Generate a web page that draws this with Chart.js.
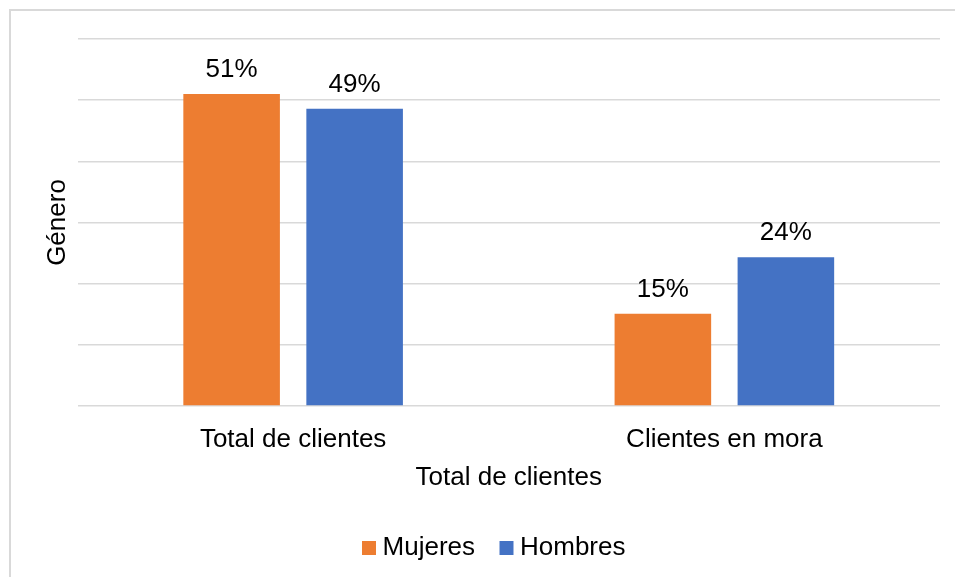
<!DOCTYPE html>
<html>
<head>
<meta charset="utf-8">
<script src="https://cdn.jsdelivr.net/npm/chart.js@4/dist/chart.umd.min.js"></script>
<style>
  html, body { margin: 0; padding: 0; background: #fff; overflow: hidden; }
  #wrap { position: relative; width: 955px; height: 577px; }
  #frame { position: absolute; left: 9px; top: 9px; width: 1000px; height: 1000px; border: 2px solid #d9d9d9; box-sizing: border-box; }
  #box { position: absolute; left: 0; top: 0; width: 955px; height: 577px; }
</style>
</head>
<body>
<div id="wrap">
  <div id="frame"></div>
  <div id="box"><canvas id="c"></canvas></div>
</div>
<script>
const categories = ['Total de clientes', 'Clientes en mora'];
const seriesNames = ['Mujeres', 'Hombres'];
const mujeres = [51, 15.1];
const hombres = [48.6, 24.3];
const yTicks = [0, 10, 20, 30, 40, 50, 60];
const xTitle = 'Total de clientes';
const yTitle = 'Género';

const FONT = 'Liberation Sans, Arial, sans-serif';

const valueLabels = {
  id: 'valueLabels',
  afterDatasetsDraw(chart) {
    const ctx = chart.ctx;
    ctx.save();
    ctx.font = '26px ' + FONT;
    ctx.fillStyle = '#000';
    ctx.textAlign = 'center';
    ctx.textBaseline = 'alphabetic';
    chart.data.datasets.forEach((ds, i) => {
      const meta = chart.getDatasetMeta(i);
      meta.data.forEach((bar, j) => {
        ctx.fillText(Math.round(ds.data[j]) + '%', bar.x, bar.y - 17);
      });
    });
    ctx.restore();
  }
};

new Chart(document.getElementById('c'), {
  type: 'bar',
  data: {
    labels: categories,
    datasets: [
      { label: seriesNames[0], data: mujeres, backgroundColor: '#ED7D31', borderWidth: 0 },
      { label: seriesNames[1], data: hombres, backgroundColor: '#4472C4', borderWidth: 0 }
    ]
  },
  options: {
    responsive: true,
    maintainAspectRatio: false,
    animation: false,
    devicePixelRatio: 1,
    categoryPercentage: 0.5705,
    barPercentage: 0.785,
    layout: { padding: { left: 54, right: 15, top: 39, bottom: 6 } },
    plugins: {
      tooltip: { enabled: false },
      legend: {
        position: 'bottom',
        align: 'center',
        labels: {
          usePointStyle: true,
          pointStyle: 'rect',
          boxWidth: 1,
          boxHeight: 14,
          padding: 31,
          color: '#000',
          font: { family: FONT, size: 26 }
        }
      }
    },
    scales: {
      x: {
        grid: { display: false, drawTicks: false },
        border: { display: false },
        ticks: { color: '#000', font: { family: FONT, size: 26 }, padding: 17.9 },
        title: {
          display: true, text: xTitle, color: '#000',
          font: { family: FONT, size: 26 },
          padding: { top: -10.6, bottom: 10.4 }
        }
      },
      y: {
        min: yTicks[0],
        max: yTicks[yTicks.length - 1],
        afterBuildTicks(scale) { scale.ticks = yTicks.map(v => ({ value: v })); },
        ticks: { display: false },
        grid: { color: '#d9d9d9', lineWidth: 1.5, drawTicks: false },
        border: { display: false },
        title: {
          display: true, text: yTitle, color: '#000',
          font: { family: FONT, size: 26 },
          padding: { top: -12.1, bottom: 4.4 }
        }
      }
    }
  },
  plugins: [valueLabels]
});
</script>
</body>
</html>
